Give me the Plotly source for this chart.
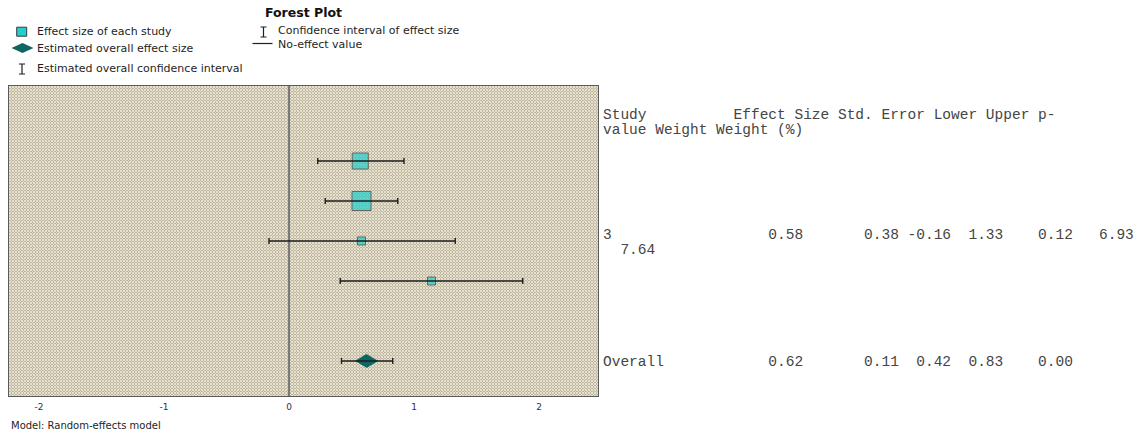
import base64
import math
import plotly.graph_objects as go

# ---------------- data ----------------
study_rows = [1, 2, 3, 4]
study_effect = [0.57, 0.58, 0.58, 1.14]
study_lower = [0.23, 0.29, -0.16, 0.41]
study_upper = [0.92, 0.87, 1.33, 1.87]
study_weight_pct = [30.5, 43.0, 7.64, 7.6]

overall_row = 6
overall_effect = 0.62
overall_lower = 0.42
overall_upper = 0.83

# rows of the results table printed beside the plot
table_row_pos = [3, 6]
table_label = ["3", "Overall"]
table_effect = [0.58, 0.62]
table_se = [0.38, 0.11]
table_lower = [-0.16, 0.42]
table_upper = [1.33, 0.83]
table_p = [0.12, 0.00]
table_weight = [6.93, None]
table_weight_pct = [7.64, None]
header_lines = ["Study          Effect Size Std. Error Lower Upper p-",
                "value Weight Weight (%)"]

x_tickvals = [-2, -1, 0, 1, 2]
x_ticktext = ["-2", "-1", "0", "1", "2"]

# ---------------- layout geometry ----------------
W, H = 1143, 435
ML, MR, MT, MB = 9, 545, 86, 39
PW, PH = W - ML - MR, H - MT - MB
X_RANGE = [-2.24, 2.472]
Y_RANGE = [6.875, -0.875]

# overall diamond half-extents (x in effect units, y in row units)
DIAMOND_DX = 0.09
DIAMOND_DY = 0.17

CYAN = "#22cfcf"
TEAL = "#0d6661"
EDGE = "#3a3a3a"
INK = "#1e1e1e"
SANS = "DejaVu Sans, Lucida Grande, sans-serif"
MONO = "Liberation Mono, Courier New, monospace"


def xp(px):
    return (px - ML) / PW


def yp(py):
    return (MT + PH - py) / PH


# stippled plot background
svg = (
    f"<svg xmlns='http://www.w3.org/2000/svg' width='{PW}' height='{PH}' shape-rendering='crispEdges'>"
    "<defs><pattern id='p' width='3' height='3' patternUnits='userSpaceOnUse'>"
    "<rect width='3' height='3' fill='#beb7a2'/>"
    "<rect width='2' height='2' fill='#e6e0cc'/>"
    "<rect x='2' y='2' width='1' height='1' fill='#e6e0cc'/>"
    "</pattern></defs><rect width='100%' height='100%' fill='url(#p)'/></svg>"
)
bg_uri = "data:image/svg+xml;base64," + base64.b64encode(svg.encode()).decode()

fig = go.Figure()

# study effect squares, sized by weight
fig.add_trace(go.Scatter(
    x=study_effect, y=study_rows, mode="markers",
    marker=dict(symbol="square", color=CYAN,
                size=[2.9 * math.sqrt(w) for w in study_weight_pct],
                line=dict(color=EDGE, width=1)),
    hoverinfo="skip",
))
# study confidence intervals, drawn over the squares
fig.add_trace(go.Scatter(
    x=study_effect, y=study_rows, mode="markers",
    marker=dict(size=0, color="rgba(0,0,0,0)"),
    error_x=dict(type="data", symmetric=False,
                 array=[u - e for u, e in zip(study_upper, study_effect)],
                 arrayminus=[e - l for e, l in zip(study_effect, study_lower)],
                 color=INK, thickness=1.4, width=3),
    hoverinfo="skip",
))
# overall estimate as a filled diamond
fig.add_trace(go.Scatter(
    x=[overall_effect - DIAMOND_DX, overall_effect, overall_effect + DIAMOND_DX, overall_effect],
    y=[overall_row, overall_row - DIAMOND_DY, overall_row, overall_row + DIAMOND_DY],
    mode="lines", fill="toself", fillcolor=TEAL, line=dict(color=TEAL, width=0.5),
    hoverinfo="skip",
))
fig.add_trace(go.Scatter(
    x=[overall_effect], y=[overall_row], mode="markers",
    marker=dict(size=0, color="rgba(0,0,0,0)"),
    error_x=dict(type="data", symmetric=False,
                 array=[overall_upper - overall_effect],
                 arrayminus=[overall_effect - overall_lower],
                 color=INK, thickness=1.4, width=3),
    hoverinfo="skip",
))

annotations = []
shapes = []

# results table to the right of the plot
LINE_PITCH = 15


def add_text_block(lines, row):
    n = len(lines)
    for k, line in enumerate(lines):
        annotations.append(dict(
            xref="paper", yref="y", x=1, y=row, xanchor="left", yanchor="middle",
            xshift=3, yshift=-(k - (n - 1) / 2) * LINE_PITCH - 1,
            text=line.replace(" ", "\u00a0"), showarrow=False,
            font=dict(family=MONO, size=14.5, color="#454545"),
        ))


add_text_block(header_lines, 0)
for i, row in enumerate(table_row_pos):
    first = (f"{table_label[i]:<15}{table_effect[i]:>8.2f}{table_se[i]:>11.2f}"
             f"{table_lower[i]:>6.2f}{table_upper[i]:>6.2f}{table_p[i]:>8.2f}")
    if table_weight[i] is not None:
        first += f"{table_weight[i]:>7.2f}"
        lines = [first, f"{table_weight_pct[i]:>6.2f}"]
    else:
        lines = [first]
    add_text_block(lines, row)

# key above the plot
legend_font = dict(family=SANS, size=11, color=INK)
for label, px, py in [
    ("Effect size of each study", 35, 31.5),
    ("Estimated overall effect size", 35, 48),
    ("Estimated overall confidence interval", 35, 69),
    ("Confidence interval of effect size", 276, 31),
    ("No-effect value", 276, 44.5),
]:
    annotations.append(dict(xref="paper", yref="paper", x=xp(px), y=yp(py),
                            xanchor="left", yanchor="middle", text=label,
                            showarrow=False, font=legend_font))
annotations.append(dict(xref="paper", yref="paper", x=xp(303.5), y=yp(13),
                        xanchor="center", yanchor="middle", text="<b>Forest Plot</b>",
                        showarrow=False, font=dict(family=SANS, size=12.5, color="#111111")))
annotations.append(dict(xref="paper", yref="paper", x=xp(9), y=yp(425.5),
                        xanchor="left", yanchor="middle", text="Model: Random-effects model",
                        showarrow=False, font=dict(family=SANS, size=10, color=INK)))


def pix_shape(kind, ax, ay, **kw):
    d = dict(type=kind, xref="paper", yref="paper", xsizemode="pixel", ysizemode="pixel",
             xanchor=xp(ax), yanchor=yp(ay))
    d.update(kw)
    return d


shapes.append(pix_shape("rect", 21.7, 31.7, x0=-5, x1=5, y0=-4.5, y1=4.5,
                        fillcolor=CYAN, line=dict(color=EDGE, width=1)))
shapes.append(pix_shape("path", 22.5, 48, path="M-11,0 L0,5 L11,0 L0,-5 Z",
                        fillcolor=TEAL, line=dict(color=TEAL, width=0)))
ibeam = "M-3,-5 L3,-5 M0,-5 L0,5 M-3,5 L3,5"
shapes.append(pix_shape("path", 22, 69, path=ibeam, line=dict(color=INK, width=1.2)))
shapes.append(pix_shape("path", 263.5, 32, path=ibeam, line=dict(color=INK, width=1.2)))
shapes.append(pix_shape("line", 262.5, 43.5, x0=-10, x1=10, y0=0, y1=0,
                        line=dict(color=INK, width=1.2)))

fig.update_layout(
    width=W, height=H,
    margin=dict(l=ML, r=MR, t=MT, b=MB, pad=0),
    paper_bgcolor="white",
    plot_bgcolor="#d6cfbc",
    showlegend=False,
    annotations=annotations,
    shapes=shapes,
    images=[dict(source=bg_uri, xref="paper", yref="paper", x=0, y=1,
                 sizex=1, sizey=1, xanchor="left", yanchor="top",
                 sizing="stretch", layer="below")],
    xaxis=dict(range=X_RANGE, tickvals=x_tickvals, ticktext=x_ticktext,
               showgrid=False, zeroline=True, zerolinecolor="#7a7a7a", zerolinewidth=2,
               showline=True, mirror=True, linecolor="#5a5a5a", linewidth=1,
               ticks="", ticklabelstandoff=2,
               tickfont=dict(family=SANS, size=9, color="#333333")),
    yaxis=dict(range=Y_RANGE, showgrid=False, zeroline=False, showticklabels=False,
               showline=True, mirror=True, linecolor="#5a5a5a", linewidth=1, ticks=""),
)

fig.write_html("out.html")
